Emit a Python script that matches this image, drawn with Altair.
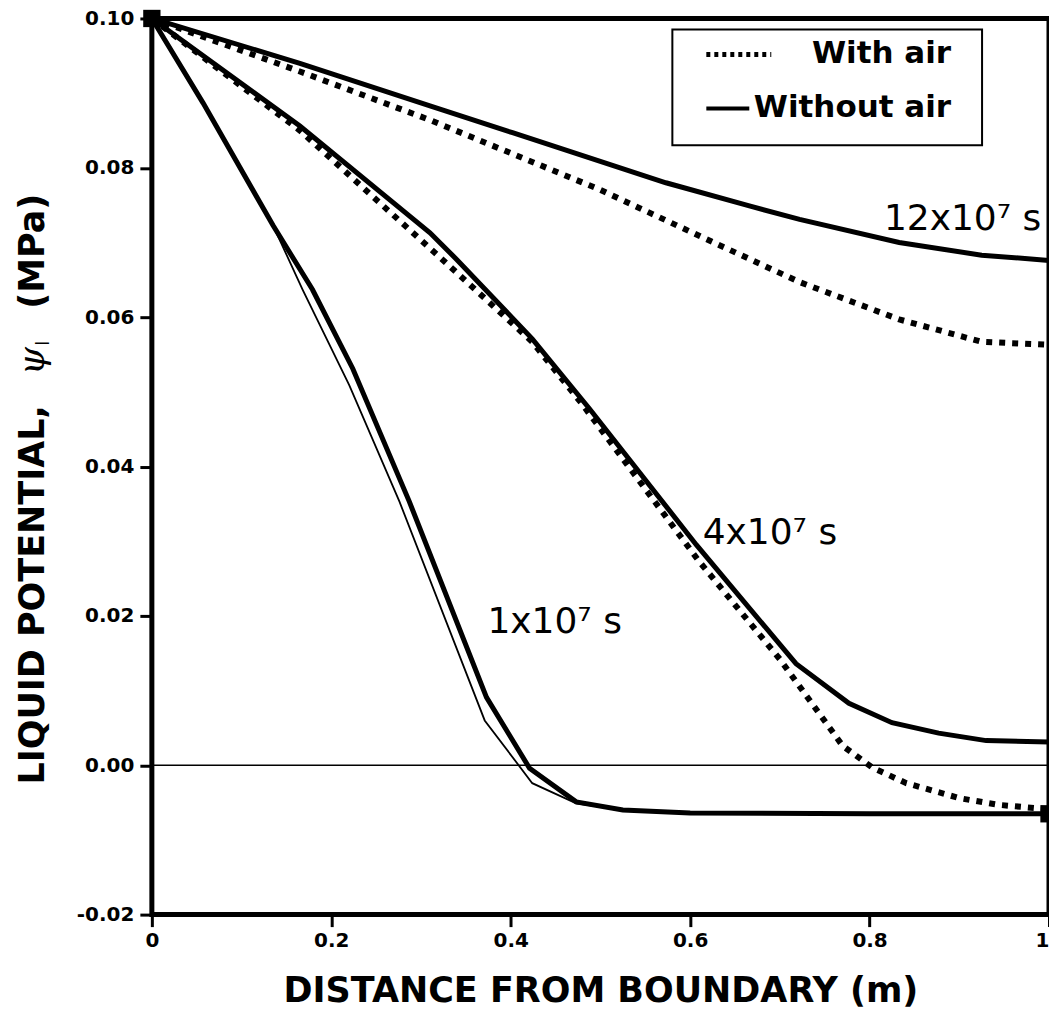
import altair as alt
import pandas as pd

FONT = "DejaVu Sans"

# ---- data ----
x_ticks = [0, 0.2, 0.4, 0.6, 0.8, 1.0]
y_ticks = [-0.02, 0.0, 0.02, 0.04, 0.06, 0.08, 0.10]

# 1x10^7 s, without air (thick solid)
x_1e7_wo = [0, 0.057, 0.135, 0.179, 0.224, 0.287, 0.373, 0.421, 0.473, 0.525, 0.6, 0.8, 1.0]
y_1e7_wo = [0.100, 0.0887, 0.0723, 0.0637, 0.0531, 0.0353, 0.0091, -0.0004, -0.0049, -0.0060, -0.0064, -0.0065, -0.0065]
# 1x10^7 s, with air (thin solid)
x_1e7_w = [0, 0.057, 0.135, 0.168, 0.220, 0.276, 0.371, 0.424, 0.473, 0.525, 0.6, 0.8, 1.0]
y_1e7_w = [0.100, 0.0887, 0.0723, 0.0637, 0.0509, 0.0353, 0.0060, -0.0024, -0.0051, -0.0060, -0.0064, -0.0065, -0.0065]
# 4x10^7 s
x_4e7_wo = [0, 0.165, 0.31, 0.34, 0.424, 0.488, 0.607, 0.718, 0.777, 0.825, 0.877, 0.93, 1.0]
y_4e7_wo = [0.1, 0.0856, 0.0713, 0.0677, 0.0571, 0.0477, 0.0295, 0.0136, 0.0083, 0.0057, 0.0043, 0.0033, 0.0031]
x_4e7_w = [0, 0.165, 0.324, 0.424, 0.48, 0.61, 0.70, 0.77, 0.803, 0.841, 0.90, 0.944, 1.0]
y_4e7_w = [0.1, 0.085, 0.0677, 0.0567, 0.0483, 0.0273, 0.0142, 0.0026, -0.0003, -0.0024, -0.0044, -0.0053, -0.0059]
# 12x10^7 s
x_12e7_wo = [0, 0.165, 0.31, 0.402, 0.573, 0.666, 0.722, 0.833, 0.925, 1.0]
y_12e7_wo = [0.1, 0.094, 0.0883, 0.0847, 0.078, 0.0749, 0.0731, 0.070, 0.0683, 0.0676]
x_12e7_w = [0, 0.165, 0.31, 0.499, 0.61, 0.722, 0.833, 0.925, 1.0]
y_12e7_w = [0.1, 0.0929, 0.0864, 0.0771, 0.0709, 0.0647, 0.0597, 0.0567, 0.0563]

marker_x = [0.0, 1.0]
marker_y = [0.100, -0.0065]

label_text = ["12x10\u2077 s", "4x10\u2077 s", "1x10\u2077 s"]
label_x = [0.816, 0.614, 0.374]
label_y = [0.0717, 0.0296, 0.0177]

legend_text = ["With air", "Without air"]


def frame(xs, ys, name):
    return pd.DataFrame({"x": xs, "y": ys, "series": name})


df_thick = pd.concat([
    frame(x_1e7_wo, y_1e7_wo, "1e7 without"),
    frame(x_4e7_wo, y_4e7_wo, "4e7 without"),
    frame(x_12e7_wo, y_12e7_wo, "12e7 without"),
])
df_dot = pd.concat([
    frame(x_4e7_w, y_4e7_w, "4e7 with"),
    frame(x_12e7_w, y_12e7_w, "12e7 with"),
])
df_thin = frame(x_1e7_w, y_1e7_w, "1e7 with")

xscale = alt.Scale(domain=[0, 1], nice=False, zero=False)
yscale = alt.Scale(domain=[-0.02, 0.10], nice=False, zero=False)

x_axis = alt.Axis(
    values=x_ticks, format="~g", title="DISTANCE FROM BOUNDARY (m)",
    domain=False, grid=False, tickSize=12, tickWidth=3, tickColor="black",
    labelFont=FONT, labelFontWeight="bold", labelFontSize=20, labelColor="black",
    labelPadding=4, labelFlush=False, labelOverlap=False, labelBound=False,
    labelAlign={"condition": {"test": "datum.value >= 1", "value": "right"}, "value": "center"},
    titleFont=FONT, titleFontWeight="bold", titleFontSize=35, titleColor="black",
    titlePadding=23,
)
y_axis = alt.Axis(
    values=y_ticks, title=None,
    labelExpr="datum.value < 0 ? '-' + format(-datum.value, '.2f') : format(datum.value, '.2f')",
    domain=False, grid=False, tickSize=12, tickWidth=3, tickColor="black",
    labelFont=FONT, labelFontWeight="bold", labelFontSize=20, labelColor="black",
    labelPadding=6, labelFlush=False, labelOverlap=False, labelBound=False,
)

X = alt.X("x:Q", scale=xscale, axis=x_axis)
Y = alt.Y("y:Q", scale=yscale, axis=y_axis)

zero_rule = alt.Chart(pd.DataFrame({"y": [0.0]})).mark_rule(
    color="black", strokeWidth=1.6
).encode(y=Y)

thick = alt.Chart(df_thick).mark_line(color="black", strokeWidth=5).encode(
    x=X, y=Y, detail="series:N")
dotted = alt.Chart(df_dot).mark_line(
    color="black", strokeWidth=6, strokeDash=[6, 7], strokeCap="butt"
).encode(x=X, y=Y, detail="series:N")
thin = alt.Chart(df_thin).mark_line(color="black", strokeWidth=1.8).encode(x=X, y=Y)

markers = alt.Chart(pd.DataFrame({"x": marker_x, "y": marker_y})).mark_square(
    size=300, color="black", opacity=1, filled=True
).encode(x=X, y=Y)

labels = alt.Chart(pd.DataFrame({"x": label_x, "y": label_y, "t": label_text})).mark_text(
    align="left", baseline="alphabetic", font=FONT, fontSize=36, color="black"
).encode(x=X, y=Y, text="t:N")

one = pd.DataFrame({"a": [0]})

legend_box = alt.Chart(one).mark_rect(
    fill="white", stroke="black", strokeWidth=2
).encode(x=alt.value(521), x2=alt.value(831), y=alt.value(11), y2=alt.value(127))
legend_dot = alt.Chart(one).mark_rule(
    color="black", strokeWidth=5, strokeDash=[4, 4], strokeCap="butt"
).encode(x=alt.value(555), x2=alt.value(620), y=alt.value(36))
legend_solid = alt.Chart(one).mark_rule(color="black", strokeWidth=4).encode(
    x=alt.value(555), x2=alt.value(598), y=alt.value(90))
legend_t1 = alt.Chart(one).mark_text(
    align="right", baseline="middle", font=FONT, fontWeight="bold", fontSize=31, color="black"
).encode(x=alt.value(800), y=alt.value(36), text=alt.value(legend_text[0]))
legend_t2 = alt.Chart(one).mark_text(
    align="right", baseline="middle", font=FONT, fontWeight="bold", fontSize=31, color="black"
).encode(x=alt.value(800), y=alt.value(90), text=alt.value(legend_text[1]))

# y-axis title built from pieces (psi italic with subscript l)
yt1 = alt.Chart(one).mark_text(
    angle=270, align="center", baseline="middle", font=FONT, fontWeight="bold",
    fontSize=35, color="black"
).encode(x=alt.value(-119), y=alt.value(577), text=alt.value("LIQUID POTENTIAL,"))
yt2 = alt.Chart(one).mark_text(
    angle=270, align="center", baseline="middle", font="DejaVu Serif", fontStyle="italic",
    fontSize=36, color="black"
).encode(x=alt.value(-119), y=alt.value(343), text=alt.value("\u03c8"))
yt3 = alt.Chart(one).mark_text(
    angle=270, align="center", baseline="middle", font=FONT,
    fontSize=18, color="black"
).encode(x=alt.value(-108), y=alt.value(325), text=alt.value("l"))
yt4 = alt.Chart(one).mark_text(
    angle=270, align="center", baseline="middle", font=FONT, fontWeight="bold",
    fontSize=35, color="black"
).encode(x=alt.value(-119), y=alt.value(233), text=alt.value("(MPa)"))

chart = alt.layer(
    zero_rule, thin, dotted, thick, markers, labels,
    legend_box, legend_dot, legend_solid, legend_t1, legend_t2,
    yt1, yt2, yt3, yt4,
).properties(
    width=898, height=897,
    autosize=alt.AutoSizeParams(type="none"),
    padding={"left": 144, "top": 10, "right": 0, "bottom": 94},
).configure_view(stroke="black", strokeWidth=5)

chart.save("out.html", embed_options={"renderer": "svg", "actions": False})
